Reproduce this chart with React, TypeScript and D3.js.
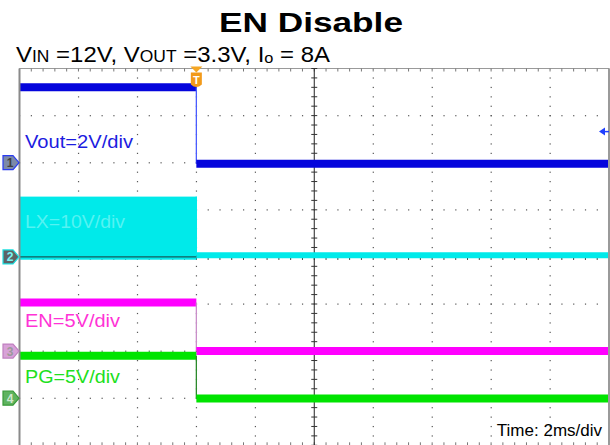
import React from "react";
import * as d3 from "d3";

// time axis (ms), 2 ms/div, trigger at t = 0
const timeDomain = [-6, 14];
const triggerTime = 0;
const majorDivsX = 10;
const majorDivsY = 8;
const minorPerDiv = 5;

// channels: volts/div, ground position (div from top), level before / after trigger
const channelNames = ["Vout", "LX", "EN", "PG"];
const voltsPerDiv = [2, 10, 5, 5];
const groundDiv = [2, 4, 6, 7];
const levelBefore = [3.2, 12.8, 5.15, 4.5];
const levelAfter = [-0.04, 0.35, 0.0, -0.03];
const lxLowBefore = -0.6;
const ch1LevelArrow = 1.32;
const traceColors = ["#0505dc", "#00eaea", "#ff00ff", "#00e400"];
const fallColors = ["#4a5cff", "#00eaea", "#c98fc9", "#2c8a2c"];
const labelTexts = ["Vout=2V/div", "LX=10V/div", "EN=5V/div", "PG=5V/div"];
const labelColors = ["#1c1ce0", "#55f2f2", "#ff33d6", "#20e020"];
const labelOffsetDiv = [-0.32, -0.62, -0.51, -0.32];
const markerFill = ["#7d8aa8", "#5e6266", "#d8a2d8", "#5fb35f"];
const markerStroke = ["#2a3cf0", "#1ee0e0", "#c080c0", "#3a9a3a"];
const markerText = ["#404040", "#7af4f4", "#9a9a9a", "#cfe8cf"];

const title = "EN Disable";
const timeLabel = "Time: 2ms/div";

const W = 610;
const H = 445;
const plotLeft = 19.5;
const plotRight = 609;
const plotTop = 68.5;
const plotBottom = 445.3;

export default function App() {
  const x = d3.scaleLinear().domain(timeDomain).range([plotLeft, plotRight]);
  const yDiv = d3.scaleLinear().domain([0, majorDivsY]).range([plotTop, plotBottom]);
  const yCh = (ch: number, v: number) => yDiv(groundDiv[ch] - v / voltsPerDiv[ch]);

  const majorX = d3.range(majorDivsX + 1).map((i) => timeDomain[0] + (i * (timeDomain[1] - timeDomain[0])) / majorDivsX);
  const minorX = d3.range(majorDivsX * minorPerDiv + 1).map((i) => timeDomain[0] + (i * (timeDomain[1] - timeDomain[0])) / (majorDivsX * minorPerDiv));
  const majorY = d3.range(majorDivsY + 1);
  const minorY = d3.range(majorDivsY * minorPerDiv + 1).map((i) => i / minorPerDiv);

  const cx = x(majorX[5]);
  const cy = yDiv(4);
  const tx = x(triggerTime);
  const line = d3.line<[number, number]>().x((d) => d[0]).y((d) => d[1]);
  const ay = yCh(0, ch1LevelArrow);

  const dots: JSX.Element[] = [];
  majorY.slice(1, -1).forEach((r) => {
    if (r === 4) return;
    minorX.forEach((t, i) => {
      dots.push(<rect key={`h${r}-${i}`} x={x(t) - 0.5} y={yDiv(r) - 0.5} width={1.2} height={1.2} fill="#555" />);
    });
  });
  majorX.slice(1, -1).forEach((t, c) => {
    if (c + 1 === 5) return;
    minorY.forEach((r, i) => {
      dots.push(<rect key={`v${c}-${i}`} x={x(t) - 0.5} y={yDiv(r) - 0.5} width={1.2} height={1.2} fill="#555" />);
    });
  });

  return (
    <svg width={W} height={H} style={{ position: "absolute", left: 0, top: 0, background: "#fff" }} fontFamily="Liberation Sans, Arial, sans-serif">
      {/* titles */}
      <text x={311} y={32} textAnchor="middle" fontSize={28} fontWeight="bold" textLength={184} lengthAdjust="spacingAndGlyphs">{title}</text>
      <text x={16} y={62} fontSize={22} textLength={314} lengthAdjust="spacingAndGlyphs">
        <tspan>V</tspan><tspan fontSize={16}>IN</tspan><tspan> =12V, V</tspan><tspan fontSize={16}>OUT</tspan><tspan> =3.3V, I</tspan><tspan fontSize={15} dy={1}>o</tspan><tspan dy={-1}> = 8A</tspan>
      </text>

      {/* grid */}
      {dots}
      <line x1={plotLeft} x2={plotRight} y1={plotTop} y2={plotTop} stroke="#9a9a9a" strokeWidth={1} />
      {minorX.map((t, i) => (
        <line key={`tt${i}`} x1={x(t)} x2={x(t)} y1={plotTop} y2={plotTop + 3} stroke="#777" strokeWidth={1} />
      ))}
      {minorX.map((t, i) => (
        <line key={`bt${i}`} x1={x(t)} x2={x(t)} y1={plotBottom - 3} y2={plotBottom} stroke="#777" strokeWidth={1} />
      ))}
      <line x1={cx} x2={cx} y1={plotTop} y2={plotBottom} stroke="#222" strokeWidth={1} />
      <line x1={plotLeft} x2={plotRight} y1={cy} y2={cy} stroke="#222" strokeWidth={1} />
      {minorY.map((r, i) => (
        <line key={`cyt${i}`} x1={cx - 3} x2={cx + 3} y1={yDiv(r)} y2={yDiv(r)} stroke="#333" strokeWidth={1} />
      ))}
      {minorX.map((t, i) => (
        <line key={`cxt${i}`} x1={x(t)} x2={x(t)} y1={cy - 3} y2={cy + 3} stroke="#333" strokeWidth={1} />
      ))}

      {/* LX switching block */}
      <rect x={x(timeDomain[0])} y={yCh(1, levelBefore[1])} width={x(triggerTime) - x(timeDomain[0])} height={yCh(1, lxLowBefore) - yCh(1, levelBefore[1])} fill={traceColors[1]} />
      <line x1={plotLeft} x2={tx} y1={cy} y2={cy} stroke="#1a3a3a" strokeWidth={1} />

      {/* traces */}
      {channelNames.map((name, ch) => {
        const yb = yCh(ch, levelBefore[ch]);
        const ya = yCh(ch, levelAfter[ch]);
        const thick = ch === 1 ? 6 : 8;
        return (
          <g key={name}>
            {ch !== 1 && <path d={line([[x(timeDomain[0]), yb], [tx, yb]]) || ""} stroke={traceColors[ch]} strokeWidth={thick} fill="none" />}
            <path d={line([[tx, yb], [tx, ya]]) || ""} stroke={fallColors[ch]} strokeWidth={1.3} fill="none" />
            <path d={line([[tx, ya], [x(timeDomain[1]), ya]]) || ""} stroke={traceColors[ch]} strokeWidth={thick} fill="none" />
          </g>
        );
      })}

      {/* labels */}
      {labelTexts.map((t, ch) => (
        <text key={t} x={25} y={yDiv(groundDiv[ch] + labelOffsetDiv[ch])} fontSize={18} fill={labelColors[ch]} textLength={ch === 1 ? 100 : ch === 0 ? 108 : 95} lengthAdjust="spacingAndGlyphs">{t}</text>
      ))}

      {/* borders */}
      <line x1={plotLeft} x2={plotLeft} y1={plotTop} y2={H} stroke="#8a8a8a" strokeWidth={2} />
      <line x1={plotRight} x2={plotRight} y1={plotTop} y2={H} stroke="#9a9a9a" strokeWidth={2} />

      {/* channel ground markers */}
      {channelNames.map((name, ch) => {
        const gy = yDiv(groundDiv[ch]);
        return (
          <g key={`m${name}`}>
            <path d={`M3,${gy - 7} L13,${gy - 7} L19,${gy} L13,${gy + 7} L3,${gy + 7} Z`} fill={markerFill[ch]} stroke={markerStroke[ch]} strokeWidth={1.2} />
            <text x={10} y={gy + 4.5} fontSize={12} textAnchor="middle" fill={markerText[ch]} fontWeight="bold">{ch + 1}</text>
          </g>
        );
      })}

      {/* trigger marker */}
      <path d={`M${tx - 6},${plotTop - 2} L${tx + 6},${plotTop - 2} L${tx},${plotTop + 4} Z`} fill="#f5a623" />
      <path d={`M${tx - 5.5},${plotTop + 4} L${tx + 5.5},${plotTop + 4} L${tx + 5.5},${plotTop + 16} Q${tx},${plotTop + 21} ${tx - 5.5},${plotTop + 16} Z`} fill="#f29a1a" />
      <text x={tx} y={plotTop + 15} fontSize={11} textAnchor="middle" fill="#fff" fontWeight="bold">T</text>

      {/* ch1 level arrow at right */}
      <path d={`M${plotRight - 10},${ay} L${plotRight - 4},${ay - 4} L${plotRight - 4},${ay + 4} Z`} fill="#2040ff" />
      <line x1={plotRight - 5} x2={plotRight} y1={ay} y2={ay} stroke="#2040ff" strokeWidth={1.5} />

      {/* time label */}
      <text x={602} y={436} fontSize={17} textAnchor="end" fill="#000">{timeLabel}</text>
    </svg>
  );
}
